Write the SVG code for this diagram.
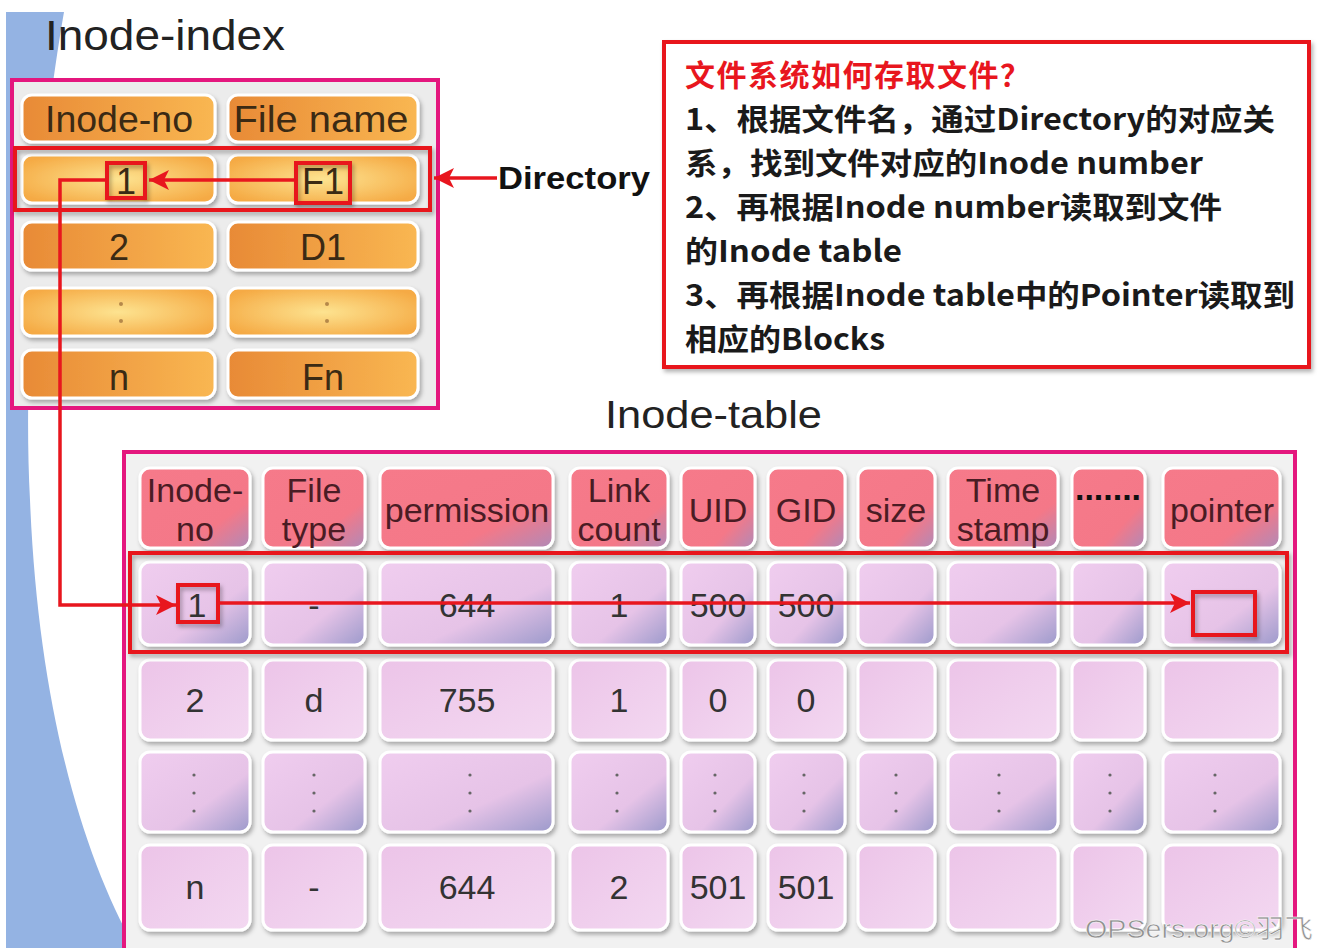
<svg xmlns="http://www.w3.org/2000/svg" width="1322" height="948" viewBox="0 0 1322 948">
<defs>
<style>
.t{font-family:"Liberation Sans",Arial,sans-serif;}
.title{font-size:42px;fill:#222;}
.oc{stroke:#fff;stroke-width:3;}
.otx{font-family:"Liberation Sans",Arial,sans-serif;font-size:36px;fill:#3b2a14;text-anchor:middle;}
.hc{fill:url(#pinkHead);stroke:#fff;stroke-width:3;}
.htx{font-family:"Liberation Sans",Arial,sans-serif;font-size:34px;fill:#4a1c24;text-anchor:middle;}
.dA{fill:url(#lavA);stroke:#fff;stroke-width:3;}
.dB{fill:url(#lavB);stroke:#fff;stroke-width:3;}
.dtx{font-family:"Liberation Sans",Arial,sans-serif;font-size:34px;fill:#333;text-anchor:middle;}
.mag{fill:none;stroke:#e4177e;stroke-width:4;}
.red{fill:none;stroke:#e8161e;stroke-width:4;}
.cn{fill:none;stroke:#e8161e;stroke-width:3.5;}
.zh{font-family:"Noto Sans CJK SC","Liberation Sans",sans-serif;font-weight:bold;font-size:30px;fill:#1a1a1a;}
.dot{fill:#666;}
</style>
<linearGradient id="orangeA" x1="0" y1="0" x2="1" y2="0">
<stop offset="0" stop-color="#e88a36"/><stop offset="1" stop-color="#f9b752"/>
</linearGradient>
<radialGradient id="orangeB" cx="0.5" cy="0.5" r="0.6">
<stop offset="0" stop-color="#fde390"/><stop offset="1" stop-color="#f5aa44"/>
</radialGradient>
<linearGradient id="pinkHead" x1="0" y1="0" x2="1" y2="1">
<stop offset="0" stop-color="#f67a8a"/><stop offset="0.7" stop-color="#f47888"/><stop offset="1" stop-color="#b08ab8"/>
</linearGradient>
<linearGradient id="lavA" x1="0" y1="0" x2="1" y2="1">
<stop offset="0" stop-color="#ecc4e8"/><stop offset="1" stop-color="#f3d8f1"/>
</linearGradient>
<linearGradient id="lavB" x1="0" y1="0" x2="1" y2="1">
<stop offset="0" stop-color="#f0cdef"/><stop offset="0.62" stop-color="#e6c3e7"/><stop offset="1" stop-color="#9c9acb"/>
</linearGradient>
<filter id="sh" x="-10%" y="-10%" width="130%" height="130%">
<feDropShadow dx="2" dy="3" stdDeviation="2" flood-color="#000" flood-opacity="0.3"/>
</filter>
<marker id="ah" viewBox="0 0 10 10" refX="10" refY="5" markerUnits="userSpaceOnUse" markerWidth="32" markerHeight="20" orient="auto">
<path d="M0,0 L10,5 L0,10 L2.5,5 z" fill="#e8161e"/>
</marker>
</defs>

<rect width="1322" height="948" fill="#ffffff"/>
<path d="M6,12 L64,12 C40,150 22,350 30,500 C38,700 80,850 135,948 L6,948 Z" fill="#94b3e3"/>

<text class="t title" x="45" y="50" textLength="240" lengthAdjust="spacingAndGlyphs">Inode-index</text>
<text class="t title" x="605" y="428" font-size="38" style="font-size:38px" textLength="217" lengthAdjust="spacingAndGlyphs">Inode-table</text>

<g id="inode-index">
<rect x="12" y="80" width="426" height="328" fill="#ececec"/>
<g filter="url(#sh)">
<rect class="oc" x="22" y="95" width="193" height="47" rx="10" fill="url(#orangeA)"/>
<rect class="oc" x="228" y="95" width="190" height="47" rx="10" fill="url(#orangeA)"/>
<rect class="oc" x="22" y="155" width="193" height="48" rx="10" fill="url(#orangeB)"/>
<rect class="oc" x="228" y="155" width="190" height="48" rx="10" fill="url(#orangeB)"/>
<rect class="oc" x="22" y="222" width="193" height="48" rx="10" fill="url(#orangeA)"/>
<rect class="oc" x="228" y="222" width="190" height="48" rx="10" fill="url(#orangeA)"/>
<rect class="oc" x="22" y="288" width="193" height="48" rx="10" fill="url(#orangeB)"/>
<rect class="oc" x="228" y="288" width="190" height="48" rx="10" fill="url(#orangeB)"/>
<rect class="oc" x="22" y="350" width="193" height="48" rx="10" fill="url(#orangeA)"/>
<rect class="oc" x="228" y="350" width="190" height="48" rx="10" fill="url(#orangeA)"/>
</g>
<text class="otx" x="119" y="132" textLength="148" lengthAdjust="spacingAndGlyphs">Inode-no</text>
<text class="otx" x="321" y="132" textLength="175" lengthAdjust="spacingAndGlyphs">File name</text>
<text class="otx" x="126" y="194">1</text>
<text class="otx" x="323" y="194">F1</text>
<text class="otx" x="119" y="260">2</text>
<text class="otx" x="323" y="260">D1</text>
<circle cx="121" cy="304" r="2" fill="#b5884a"/><circle cx="121" cy="321" r="2" fill="#b5884a"/>
<circle cx="327" cy="304" r="2" fill="#b5884a"/><circle cx="327" cy="321" r="2" fill="#b5884a"/>
<text class="otx" x="119" y="390">n</text>
<text class="otx" x="323" y="390">Fn</text>
<rect class="mag" x="12" y="80" width="426" height="328"/>
<g filter="url(#sh)">
<rect class="red" x="15" y="148" width="415" height="62"/>
<rect class="red" x="107" y="163" width="38" height="35"/>
<rect class="red" x="296" y="163" width="54" height="40"/>
</g>
</g>

<g id="directory-label">
<text x="498" y="189" font-family="'Liberation Sans',Arial,sans-serif" font-weight="bold" font-size="32" fill="#111" textLength="152" lengthAdjust="spacingAndGlyphs">Directory</text>
</g>

<g id="explanation">
<rect x="664" y="42" width="645" height="325" fill="#fff" stroke="#e8161e" stroke-width="4" filter="url(#sh)"/>
<text class="zh" x="685" y="86" style="fill:#e8161e" textLength="345" lengthAdjust="spacing">文件系统如何存取文件？</text>
<text class="zh" x="685" y="130" textLength="590" lengthAdjust="spacingAndGlyphs">1、根据文件名，通过Directory的对应关</text>
<text class="zh" x="685" y="174" textLength="518" lengthAdjust="spacingAndGlyphs">系，找到文件对应的Inode number</text>
<text class="zh" x="685" y="218" textLength="537" lengthAdjust="spacingAndGlyphs">2、再根据Inode number读取到文件</text>
<text class="zh" x="685" y="262" textLength="217" lengthAdjust="spacingAndGlyphs">的Inode table</text>
<text class="zh" x="685" y="306" textLength="610" lengthAdjust="spacingAndGlyphs">3、再根据Inode table中的Pointer读取到</text>
<text class="zh" x="685" y="350" textLength="200" lengthAdjust="spacingAndGlyphs">相应的Blocks</text>
</g>

<g id="inode-table">
<rect x="124" y="452" width="1171" height="500" fill="#f1f1f1"/>
<g filter="url(#sh)">
<rect class="hc" x="140" y="468" width="110" height="80" rx="10"/>
<rect class="hc" x="263" y="468" width="102" height="80" rx="10"/>
<rect class="hc" x="380" y="468" width="173" height="80" rx="10"/>
<rect class="hc" x="570" y="468" width="98" height="80" rx="10"/>
<rect class="hc" x="681" y="468" width="74" height="80" rx="10"/>
<rect class="hc" x="768" y="468" width="77" height="80" rx="10"/>
<rect class="hc" x="858" y="468" width="77" height="80" rx="10"/>
<rect class="hc" x="948" y="468" width="110" height="80" rx="10"/>
<rect class="hc" x="1072" y="468" width="73" height="80" rx="10"/>
<rect class="hc" x="1163" y="468" width="117" height="80" rx="10"/>

<rect class="dB" x="140" y="562" width="110" height="83" rx="10"/>
<rect class="dB" x="263" y="562" width="102" height="83" rx="10"/>
<rect class="dB" x="380" y="562" width="173" height="83" rx="10"/>
<rect class="dB" x="570" y="562" width="98" height="83" rx="10"/>
<rect class="dB" x="681" y="562" width="74" height="83" rx="10"/>
<rect class="dB" x="768" y="562" width="77" height="83" rx="10"/>
<rect class="dB" x="858" y="562" width="77" height="83" rx="10"/>
<rect class="dB" x="948" y="562" width="110" height="83" rx="10"/>
<rect class="dB" x="1072" y="562" width="73" height="83" rx="10"/>
<rect class="dB" x="1163" y="562" width="117" height="83" rx="10"/>

<rect class="dA" x="140" y="660" width="110" height="80" rx="10"/>
<rect class="dA" x="263" y="660" width="102" height="80" rx="10"/>
<rect class="dA" x="380" y="660" width="173" height="80" rx="10"/>
<rect class="dA" x="570" y="660" width="98" height="80" rx="10"/>
<rect class="dA" x="681" y="660" width="74" height="80" rx="10"/>
<rect class="dA" x="768" y="660" width="77" height="80" rx="10"/>
<rect class="dA" x="858" y="660" width="77" height="80" rx="10"/>
<rect class="dA" x="948" y="660" width="110" height="80" rx="10"/>
<rect class="dA" x="1072" y="660" width="73" height="80" rx="10"/>
<rect class="dA" x="1163" y="660" width="117" height="80" rx="10"/>

<rect class="dB" x="140" y="752" width="110" height="80" rx="10"/>
<rect class="dB" x="263" y="752" width="102" height="80" rx="10"/>
<rect class="dB" x="380" y="752" width="173" height="80" rx="10"/>
<rect class="dB" x="570" y="752" width="98" height="80" rx="10"/>
<rect class="dB" x="681" y="752" width="74" height="80" rx="10"/>
<rect class="dB" x="768" y="752" width="77" height="80" rx="10"/>
<rect class="dB" x="858" y="752" width="77" height="80" rx="10"/>
<rect class="dB" x="948" y="752" width="110" height="80" rx="10"/>
<rect class="dB" x="1072" y="752" width="73" height="80" rx="10"/>
<rect class="dB" x="1163" y="752" width="117" height="80" rx="10"/>

<rect class="dA" x="140" y="845" width="110" height="85" rx="10"/>
<rect class="dA" x="263" y="845" width="102" height="85" rx="10"/>
<rect class="dA" x="380" y="845" width="173" height="85" rx="10"/>
<rect class="dA" x="570" y="845" width="98" height="85" rx="10"/>
<rect class="dA" x="681" y="845" width="74" height="85" rx="10"/>
<rect class="dA" x="768" y="845" width="77" height="85" rx="10"/>
<rect class="dA" x="858" y="845" width="77" height="85" rx="10"/>
<rect class="dA" x="948" y="845" width="110" height="85" rx="10"/>
<rect class="dA" x="1072" y="845" width="73" height="85" rx="10"/>
<rect class="dA" x="1163" y="845" width="117" height="85" rx="10"/>
</g>

<text class="htx" x="195" y="502">Inode-</text><text class="htx" x="195" y="541">no</text>
<text class="htx" x="314" y="502">File</text><text class="htx" x="314" y="541">type</text>
<text class="htx" x="467" y="522">permission</text>
<text class="htx" x="619" y="502">Link</text><text class="htx" x="619" y="541">count</text>
<text class="htx" x="718" y="522">UID</text>
<text class="htx" x="806" y="522">GID</text>
<text class="htx" x="896" y="522">size</text>
<text class="htx" x="1003" y="502">Time</text><text class="htx" x="1003" y="541">stamp</text>
<text class="htx" x="1108" y="500" style="fill:#111;font-weight:bold">.......</text>
<text class="htx" x="1222" y="522">pointer</text>

<text class="dtx" x="197" y="617">1</text>
<text class="dtx" x="314" y="617">-</text>
<text class="dtx" x="467" y="617">644</text>
<text class="dtx" x="619" y="617">1</text>
<text class="dtx" x="718" y="617">500</text>
<text class="dtx" x="806" y="617">500</text>

<text class="dtx" x="195" y="712">2</text>
<text class="dtx" x="314" y="712">d</text>
<text class="dtx" x="467" y="712">755</text>
<text class="dtx" x="619" y="712">1</text>
<text class="dtx" x="718" y="712">0</text>
<text class="dtx" x="806" y="712">0</text>

<g class="dot">
<circle cx="194" cy="775" r="1.6"/><circle cx="194" cy="793" r="1.6"/><circle cx="194" cy="811" r="1.6"/>
<circle cx="314" cy="775" r="1.6"/><circle cx="314" cy="793" r="1.6"/><circle cx="314" cy="811" r="1.6"/>
<circle cx="470" cy="775" r="1.6"/><circle cx="470" cy="793" r="1.6"/><circle cx="470" cy="811" r="1.6"/>
<circle cx="617" cy="775" r="1.6"/><circle cx="617" cy="793" r="1.6"/><circle cx="617" cy="811" r="1.6"/>
<circle cx="715" cy="775" r="1.6"/><circle cx="715" cy="793" r="1.6"/><circle cx="715" cy="811" r="1.6"/>
<circle cx="804" cy="775" r="1.6"/><circle cx="804" cy="793" r="1.6"/><circle cx="804" cy="811" r="1.6"/>
<circle cx="896" cy="775" r="1.6"/><circle cx="896" cy="793" r="1.6"/><circle cx="896" cy="811" r="1.6"/>
<circle cx="999" cy="775" r="1.6"/><circle cx="999" cy="793" r="1.6"/><circle cx="999" cy="811" r="1.6"/>
<circle cx="1110" cy="775" r="1.6"/><circle cx="1110" cy="793" r="1.6"/><circle cx="1110" cy="811" r="1.6"/>
<circle cx="1215" cy="775" r="1.6"/><circle cx="1215" cy="793" r="1.6"/><circle cx="1215" cy="811" r="1.6"/>
</g>

<text class="dtx" x="195" y="899">n</text>
<text class="dtx" x="314" y="899">-</text>
<text class="dtx" x="467" y="899">644</text>
<text class="dtx" x="619" y="899">2</text>
<text class="dtx" x="718" y="899">501</text>
<text class="dtx" x="806" y="899">501</text>

<rect class="mag" x="124" y="452" width="1171" height="500"/>
<g filter="url(#sh)">
<rect class="red" x="130" y="553" width="1157" height="99"/>
<rect class="red" x="178" y="585" width="40" height="37"/>
<rect class="red" x="1193" y="592" width="62" height="43"/>
</g>
</g>

<g id="connectors">
<line class="cn" x1="296" y1="180" x2="149" y2="180" marker-end="url(#ah)"/>
<line class="cn" x1="497" y1="178" x2="434" y2="178" marker-end="url(#ah)"/>
<path class="cn" d="M107,180 H60 V605 H176" marker-end="url(#ah)"/>
<line class="cn" x1="218" y1="603" x2="1190" y2="603" marker-end="url(#ah)"/>
</g>

<text x="1085" y="938" font-family="'Liberation Sans',Arial,'Noto Sans CJK SC',sans-serif" font-size="26" fill="#8f8f8f" stroke="#ffffff" stroke-width="0.5" textLength="228" lengthAdjust="spacingAndGlyphs">OPSers.org©羽飞</text>
</svg>
